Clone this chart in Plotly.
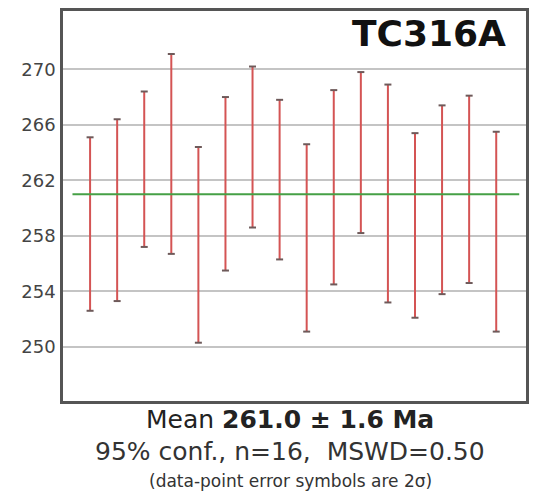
import plotly.graph_objects as go

# Data: 2-sigma error bar limits for each analysis (Ma)
analysis = list(range(1, 17))
lower = [252.6, 253.3, 257.2, 256.7, 250.3, 255.5, 258.6, 256.3,
         251.1, 254.5, 258.2, 253.2, 252.1, 253.8, 254.6, 251.1]
upper = [265.1, 266.4, 268.4, 271.1, 264.4, 268.0, 270.2, 267.8,
         264.6, 268.5, 269.8, 268.9, 265.4, 267.4, 268.1, 265.5]
mean_age = 261.0
mean_err = 1.6
mswd = 0.50
y_ticks = [250, 254, 258, 262, 266, 270]
sample_name = "TC316A"

FONT = "DejaVu Sans"
BAR_COLOR = "rgb(212,84,84)"
CAP_COLOR = "rgb(110,90,90)"

seg_x, seg_y = [], []
for xi, lo, hi in zip(analysis, lower, upper):
    seg_x += [xi, xi, None]
    seg_y += [lo, hi, None]

fig = go.Figure()

fig.add_shape(type="line", xref="x", yref="y",
              x0=0.35, x1=16.85, y0=mean_age, y1=mean_age,
              line=dict(color="rgb(70,160,70)", width=2), layer="above")

fig.add_trace(go.Scatter(x=seg_x, y=seg_y, mode="lines",
                         line=dict(color=BAR_COLOR, width=2),
                         hoverinfo="skip", showlegend=False))
fig.add_trace(go.Scatter(x=analysis + analysis, y=lower + upper, mode="markers",
                         marker=dict(symbol="line-ew", size=5,
                                     line=dict(color=CAP_COLOR, width=2)),
                         hoverinfo="skip", showlegend=False))

fig.update_layout(
    width=537, height=495,
    margin=dict(l=63, r=8, t=8, b=94),
    paper_bgcolor="white", plot_bgcolor="white",
    font=dict(family=FONT, color="#444"),
    showlegend=False,
    xaxis=dict(range=[0, 17.1], showgrid=False, zeroline=False,
               showticklabels=False, ticks="",
               showline=True, mirror=True, linecolor="#555", linewidth=2.5),
    yaxis=dict(range=[246.1, 274.2], tickvals=y_ticks,
               ticktext=[str(v) for v in y_ticks],
               tickfont=dict(family=FONT, size=18, color="#444"),
               showgrid=True, gridcolor="#c4c4c4", gridwidth=1.5,
               zeroline=False, ticks="", ticklabelstandoff=1,
               showline=True, mirror=True, linecolor="#555", linewidth=2.5),
)

fig.add_annotation(xref="paper", yref="paper", x=0.962, y=0.942,
                   xanchor="right", yanchor="middle", showarrow=False,
                   text=f"<b>{sample_name}</b>",
                   font=dict(family=FONT, size=36, color="#111"))

fig.add_annotation(xref="paper", yref="paper", x=0.491, y=-0.048,
                   xanchor="center", yanchor="middle", showarrow=False,
                   text=f"Mean <b>{mean_age:.1f} ± {mean_err:.1f} Ma</b>",
                   font=dict(family=FONT, size=25, color="#222"))
fig.add_annotation(xref="paper", yref="paper", x=0.491, y=-0.130,
                   xanchor="center", yanchor="middle", showarrow=False,
                   text=f"95% conf., n={len(analysis)},  MSWD={mswd:.2f}",
                   font=dict(family=FONT, size=25, color="#333"))
fig.add_annotation(xref="paper", yref="paper", x=0.491, y=-0.204,
                   xanchor="center", yanchor="middle", showarrow=False,
                   text="(data-point error symbols are 2σ)",
                   font=dict(family=FONT, size=17, color="#333"))

fig.write_html("out.html",
               config={"displayModeBar": False},
               post_script="document.body.style.margin='0';")
